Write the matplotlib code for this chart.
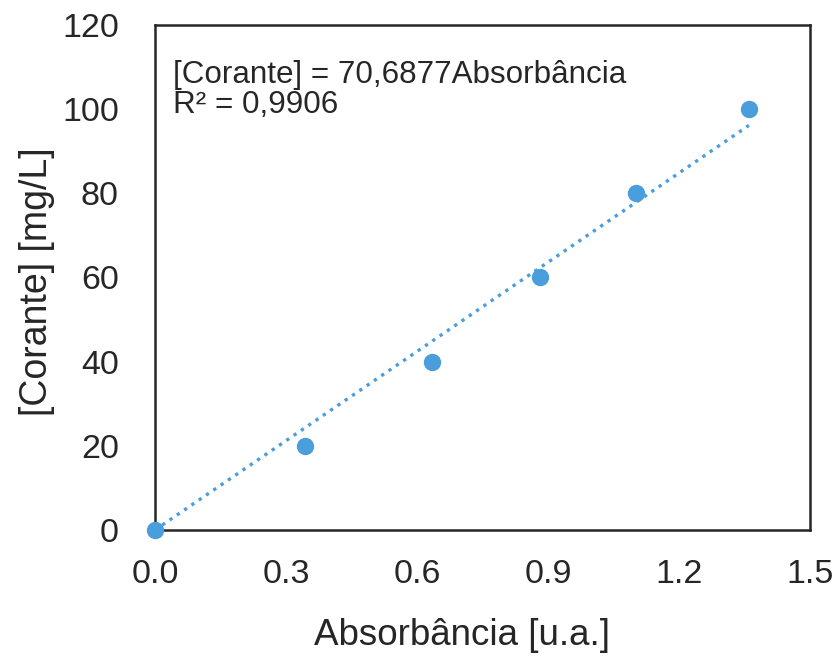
import matplotlib
matplotlib.use("Agg")
import matplotlib.pyplot as plt
import numpy as np

plt.rcParams['font.family'] = ['Liberation Sans', 'DejaVu Sans']

absorbancia = [0.0, 0.343, 0.634, 0.882, 1.101, 1.360]
corante = [0, 20, 40, 60, 80, 100]
slope = 70.6877
r2_text = "0,9906"
x_ticks = [0.0, 0.3, 0.6, 0.9, 1.2, 1.5]
y_ticks = [0, 20, 40, 60, 80, 100, 120]

color = '#4a9edc'
txt = '#262626'

fig = plt.figure(figsize=(8.4, 6.59), dpi=100)
ax = fig.add_axes([0.1845, 0.1958, 0.7798, 0.7663])

xt = np.array([0.0, max(absorbancia)])
ax.plot(xt, slope * xt, linestyle=':', color=color, linewidth=2.4, zorder=2)
ax.plot(absorbancia, corante, 'o', color=color, markersize=11.5, clip_on=False, zorder=3)

ax.set_xlim(0, 1.5)
ax.set_ylim(0, 120)
ax.set_xticks(x_ticks)
ax.set_xticklabels([f"{v:.1f}" for v in x_ticks])
ax.set_yticks(y_ticks)
ax.tick_params(axis='both', length=0, labelsize=24.5, colors=txt)
ax.tick_params(axis='x', pad=21)
ax.tick_params(axis='y', pad=26)
for s in ax.spines.values():
    s.set_linewidth(1.8)
    s.set_color(txt)

ax.set_xlabel("Absorbância [u.a.]", fontsize=26.5, labelpad=20, color=txt)
ax.set_ylabel("[Corante] [mg/L]", fontsize=27, labelpad=5, color=txt)
ax.xaxis.label.set_x(0.469)
ax.yaxis.label.set_y(0.492)

eq = f"[Corante] = {str(slope).replace('.', ',')}Absorbância"
ax.text(0.0275, 0.885, eq, transform=ax.transAxes, fontsize=22.6,
        va='baseline', ha='left', color=txt)
ax.text(0.0275, 0.826, f"R² = {r2_text}", transform=ax.transAxes, fontsize=22.6,
        va='baseline', ha='left', color=txt)

fig.savefig("out.png", dpi=100)
